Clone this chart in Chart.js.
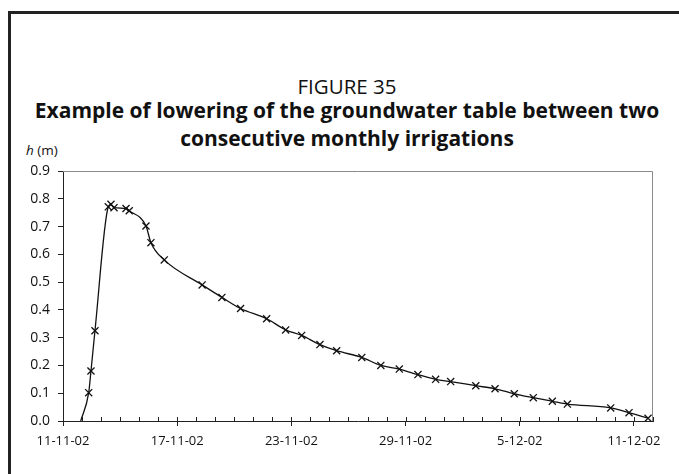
<!DOCTYPE html>
<html>
<head>
<meta charset="utf-8">
<title>Figure 35</title>
<script src="https://cdn.jsdelivr.net/npm/chart.js@4.4.1/dist/chart.umd.min.js"></script>
<style>
  html, body { margin: 0; padding: 0; background: #fff; }
  body { width: 679px; height: 474px; position: relative; overflow: hidden; font-family: "Open Sans", "Noto Sans", sans-serif; color: #111; }
  .frame { position: absolute; left: 8px; top: 11px; right: -10px; bottom: -10px; border-left: 3px solid #222; border-top: 3px solid #222; }
  .fig-no { position: absolute; left: 0; width: 694px; top: 72px; text-align: center; font-size: 20.5px; line-height: 28px; }
  .fig-title { position: absolute; left: 0; width: 694px; top: 96px; text-align: center; font-size: 21px; font-weight: bold; line-height: 28px; }
  .ylab { position: absolute; left: 26px; top: 141px; font-size: 13.5px; }
  canvas { position: absolute; left: 0; top: 0; }
</style>
</head>
<body>
<div class="frame"></div>
<div class="fig-no">FIGURE 35</div>
<div class="fig-title">Example of lowering of the groundwater table between two<br>consecutive monthly irrigations</div>
<div class="ylab"><i>h</i> (m)</div>
<canvas id="chart" width="679" height="474"></canvas>
<script>
// days after 11-11-02, water table height h (m)
const days = [0.93, 1.35, 1.47, 1.68, 2.38, 2.52, 2.68, 3.31, 3.48, 4.36, 4.62, 5.32, 7.31, 8.35, 9.33,
  10.7, 11.7, 12.54, 13.5, 14.38, 15.7, 16.7, 17.67, 18.65, 19.58, 20.37, 21.69, 22.7, 23.71, 24.71,
  25.71, 26.5, 28.78, 29.74, 30.74];
const heights = [0, 0.102, 0.18, 0.325, 0.771, 0.78, 0.768, 0.765, 0.757, 0.702, 0.642, 0.58, 0.49, 0.445, 0.405,
  0.368, 0.328, 0.308, 0.275, 0.253, 0.229, 0.2, 0.187, 0.167, 0.15, 0.142, 0.127, 0.116, 0.098, 0.084,
  0.071, 0.061, 0.047, 0.03, 0.01];
const dateLabels = ["11-11-02", "17-11-02", "23-11-02", "29-11-02", "5-12-02", "11-12-02"];
const labelEvery = 6;
const lastDay = 31;

// plot frame (top/right) and small daily ticks inside the x axis
const framePlugin = {
  id: "framePlugin",
  afterDraw(chart) {
    const { ctx, chartArea: a, scales } = chart;
    ctx.save();
    ctx.strokeStyle = "#8a8a8a";
    ctx.lineWidth = 1;
    ctx.beginPath();
    ctx.moveTo(a.left, a.top + 0.5); ctx.lineTo(a.right - 0.5, a.top + 0.5); ctx.lineTo(a.right - 0.5, a.bottom);
    ctx.stroke();
    ctx.strokeStyle = "#222";
    ctx.beginPath();
    for (let d = 0; d <= lastDay; d++) {
      const x = Math.round(scales.x.getPixelForValue(d)) + 0.5;
      ctx.moveTo(x, a.bottom); ctx.lineTo(x, a.bottom - 4);
    }
    ctx.stroke();
    ctx.restore();
  }
};

const tickFont = { family: "'Open Sans', 'Noto Sans', sans-serif", size: 13 };

new Chart(document.getElementById("chart"), {
  type: "line",
  data: {
    datasets: [{
      data: days.map((d, i) => ({ x: d, y: heights[i] })),
      borderColor: "#111",
      borderWidth: 1.3,
      cubicInterpolationMode: "monotone",
      pointStyle: "crossRot",
      pointRadius: (c) => (c.dataIndex === 0 ? 0 : 5),
      pointBorderColor: "#111",
      pointBorderWidth: 1.3,
      fill: false
    }]
  },
  options: {
    responsive: false,
    animation: false,
    layout: { padding: { left: 23, right: 26, top: 171, bottom: 23 } },
    plugins: { legend: { display: false }, tooltip: { enabled: false } },
    scales: {
      x: {
        type: "linear",
        min: 0,
        max: lastDay,
        afterFit: (s) => { s.height = 30; },
        border: { color: "#222", width: 1 },
        grid: {
          drawOnChartArea: false,
          tickLength: 5,
          tickColor: (c) => (c.tick && c.tick.value % labelEvery === 0 ? "#222" : "rgba(0,0,0,0)")
        },
        ticks: {
          stepSize: 1,
          autoSkip: false,
          maxRotation: 0,
          padding: 7,
          color: "#111",
          font: tickFont,
          callback: (v) => (v % labelEvery === 0 ? dateLabels[v / labelEvery] : "")
        }
      },
      y: {
        min: 0,
        max: 0.9,
        afterFit: (s) => { s.width = 40; },
        border: { color: "#222", width: 1 },
        grid: { drawOnChartArea: false, tickLength: 5, tickColor: "#222" },
        ticks: {
          stepSize: 0.1,
          padding: 8,
          color: "#111",
          font: { family: tickFont.family, size: 14 },
          callback: (v) => v.toFixed(1)
        }
      }
    }
  },
  plugins: [framePlugin]
});
</script>
</body>
</html>
